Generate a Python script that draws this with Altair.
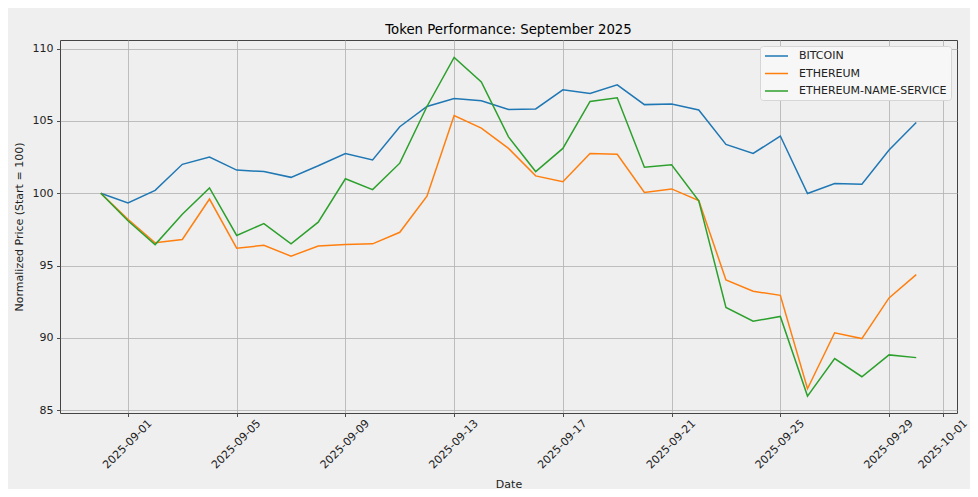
import altair as alt
import pandas as pd

dates = [
    "2025-08-31", "2025-09-01", "2025-09-02", "2025-09-03", "2025-09-04",
    "2025-09-05", "2025-09-06", "2025-09-07", "2025-09-08", "2025-09-09",
    "2025-09-10", "2025-09-11", "2025-09-12", "2025-09-13", "2025-09-14",
    "2025-09-15", "2025-09-16", "2025-09-17", "2025-09-18", "2025-09-19",
    "2025-09-20", "2025-09-21", "2025-09-22", "2025-09-23", "2025-09-24",
    "2025-09-25", "2025-09-26", "2025-09-27", "2025-09-28", "2025-09-29",
    "2025-09-30",
]

bitcoin = [100.0, 99.33, 100.2, 102.0, 102.5, 101.6, 101.5, 101.1, 101.9, 102.75,
           102.3, 104.6, 106.0, 106.55, 106.4, 105.8, 105.83, 107.15, 106.9, 107.5,
           106.13, 106.18, 105.76, 103.38, 102.75, 103.96, 99.98, 100.67, 100.63, 102.99,
           104.9]

ethereum = [100.0, 98.2, 96.57, 96.8, 99.6, 96.2, 96.4, 95.65, 96.35, 96.45,
            96.5, 97.3, 99.8, 105.37, 104.5, 103.1, 101.2, 100.8, 102.75, 102.7,
            100.05, 100.3, 99.5, 94.0, 93.22, 92.94, 86.48, 90.35, 89.95, 92.76,
            94.375]

ens = [100.0, 98.1, 96.45, 98.55, 100.37, 97.08, 97.9, 96.5, 98.0, 101.0,
       100.25, 102.08, 106.0, 109.4, 107.7, 103.9, 101.5, 103.1, 106.35, 106.6,
       101.8, 101.97, 99.47, 92.1, 91.15, 91.48, 85.97, 88.56, 87.31, 88.82,
       88.63]

tokens = ["BITCOIN", "ETHEREUM", "ETHEREUM-NAME-SERVICE"]
colors = ["#1f77b4", "#ff7f0e", "#2ca02c"]
y_ticks = [85, 90, 95, 100, 105, 110]
x_tick_days = [(9, 1), (9, 5), (9, 9), (9, 13), (9, 17), (9, 21), (9, 25), (9, 29), (10, 1)]

rows = []
for tok, series in zip(tokens, [bitcoin, ethereum, ens]):
    for d, v in zip(dates, series):
        rows.append({"date": d, "token": tok, "value": v})
df = pd.DataFrame(rows)

FONT = "DejaVu Sans"
BG = "#efefef"

x_values = [alt.DateTime(year=2025, month=m, date=d, utc=True) for m, d in x_tick_days]

chart = alt.Chart(df).mark_line(strokeWidth=1.5, clip=True).encode(
    x=alt.X(
        "date:T",
        scale=alt.Scale(
            type="utc",
            domain=[
                alt.DateTime(year=2025, month=8, date=29, hours=12, utc=True),
                alt.DateTime(year=2025, month=10, date=1, hours=12, utc=True),
            ],
        ),
        axis=alt.Axis(
            title="Date",
            values=x_values,
            labelExpr="utcFormat(datum.value, '%Y-%m-%d')",
            labelAngle=315,
            labelAlign="right",
            labelBaseline="middle",
            labelOffset=22,
            labelPadding=5,
            labelFlush=False,
            labelOverlap=False,
            labelBound=False,
            titleX=448.5,
            titleY=71,
            titleAlign="center",
            titleBaseline="middle",
        ),
    ),
    y=alt.Y(
        "value:Q",
        scale=alt.Scale(domain=[84.8, 110.6], nice=False, zero=False),
        axis=alt.Axis(
            title="Normalized Price (Start = 100)",
            values=y_ticks,
            titleX=-41,
            titleY=186.5,
            titleAngle=270,
            titleAlign="center",
            titleBaseline="middle",
        ),
    ),
    color=alt.Color(
        "token:N",
        scale=alt.Scale(domain=tokens, range=colors),
        legend=alt.Legend(
            title=None,
            orient="top-right",
            offset=6,
            padding=4,
            fillColor="#f7f7f7",
            strokeColor="#d6d6d6",
            cornerRadius=3,
            labelFont=FONT,
            labelFontSize=11,
            labelColor="#222222",
            labelOffset=23,
            symbolType="M-1,0H3.6",
            symbolStrokeWidth=1.5,
            symbolSize=100,
            rowPadding=6.5,
        ),
    ),
).properties(
    width=897,
    height=373,
    title=alt.TitleParams(
        "Token Performance: September 2025",
        font=FONT,
        fontSize=13.3,
        fontWeight="normal",
        color="#000000",
        anchor="middle",
        baseline="alphabetic",
        offset=8,
        dy=15,
    ),
    autosize=alt.AutoSizeParams(type="none"),
    padding={"left": 52, "top": 32, "right": 13, "bottom": 76},
    background=BG,
).configure_view(
    stroke="#444444",
    strokeWidth=1,
    fill=BG,
).configure_axis(
    domain=False,
    grid=True,
    gridColor="#b0b0b0",
    gridWidth=0.8,
    tickColor="#222222",
    tickSize=3.5,
    tickWidth=0.8,
    labelFont=FONT,
    labelFontSize=11,
    labelColor="#222222",
    labelPadding=3.5,
    titleFont=FONT,
    titleFontSize=11,
    titleFontWeight="normal",
    titleColor="#222222",
)

chart.save("out.html", embed_options={"renderer": "svg", "actions": False})
